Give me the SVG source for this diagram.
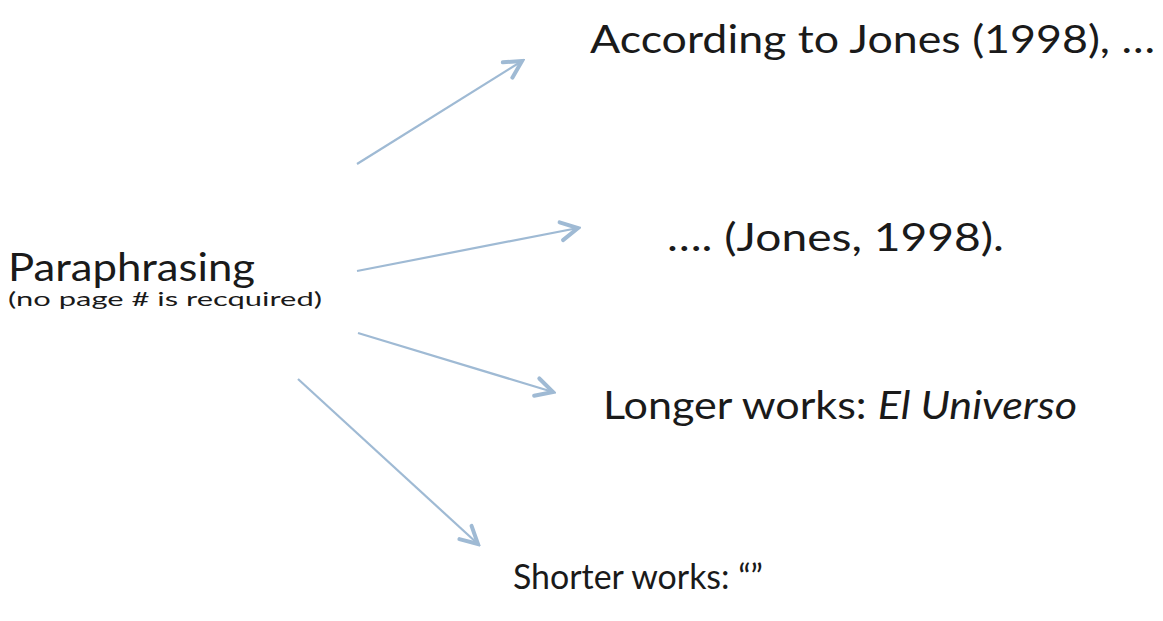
<svg xmlns="http://www.w3.org/2000/svg" width="1163" height="621" viewBox="0 0 1163 621">
<style>
.t{font-family:Lato,"Liberation Sans",sans-serif;fill:#1a1a1a;}
.big{font-size:38px;}
.small{font-size:19px;}
.c{stroke:#9fbad4;stroke-width:2.2;fill:none;}
</style>
<defs>
<marker id="ah2" viewBox="0 0 24 24" refX="21" refY="12" markerWidth="24" markerHeight="24" markerUnits="userSpaceOnUse" orient="auto">
<path d="M4,3 L21,12 L4,21" fill="none" stroke="#9fbad4" stroke-width="4" stroke-linecap="round"/>
</marker>
</defs>
<g id="connectors">
<line class="c" x1="357" y1="164" x2="522" y2="61" marker-end="url(#ah2)"/>
<line class="c" x1="357" y1="271" x2="578" y2="228" marker-end="url(#ah2)"/>
<line class="c" x1="358" y1="333" x2="553" y2="392" marker-end="url(#ah2)"/>
<line class="c" x1="298" y1="379" x2="478" y2="544" marker-end="url(#ah2)"/>
</g>
<g id="node-paraphrasing">
<text class="t big" x="8" y="281" textLength="247" lengthAdjust="spacingAndGlyphs">Paraphrasing</text>
<text class="t small" x="8" y="306" textLength="314" lengthAdjust="spacingAndGlyphs">(no page # is recquired)</text>
</g>
<g id="node-according">
<text class="t big" x="590" y="53" textLength="565" lengthAdjust="spacingAndGlyphs">According to Jones (1998), …</text>
</g>
<g id="node-jones">
<text class="t big" x="667" y="251" textLength="337" lengthAdjust="spacingAndGlyphs">…. (Jones, 1998).</text>
</g>
<g id="node-longer">
<text class="t big" x="603" y="419" textLength="474" lengthAdjust="spacingAndGlyphs">Longer works: <tspan font-style="italic">El Universo</tspan></text>
</g>
<g id="node-shorter">
<text class="t" font-size="35" x="513" y="589" textLength="250" lengthAdjust="spacingAndGlyphs">Shorter works: “”</text>
</g>
</svg>
